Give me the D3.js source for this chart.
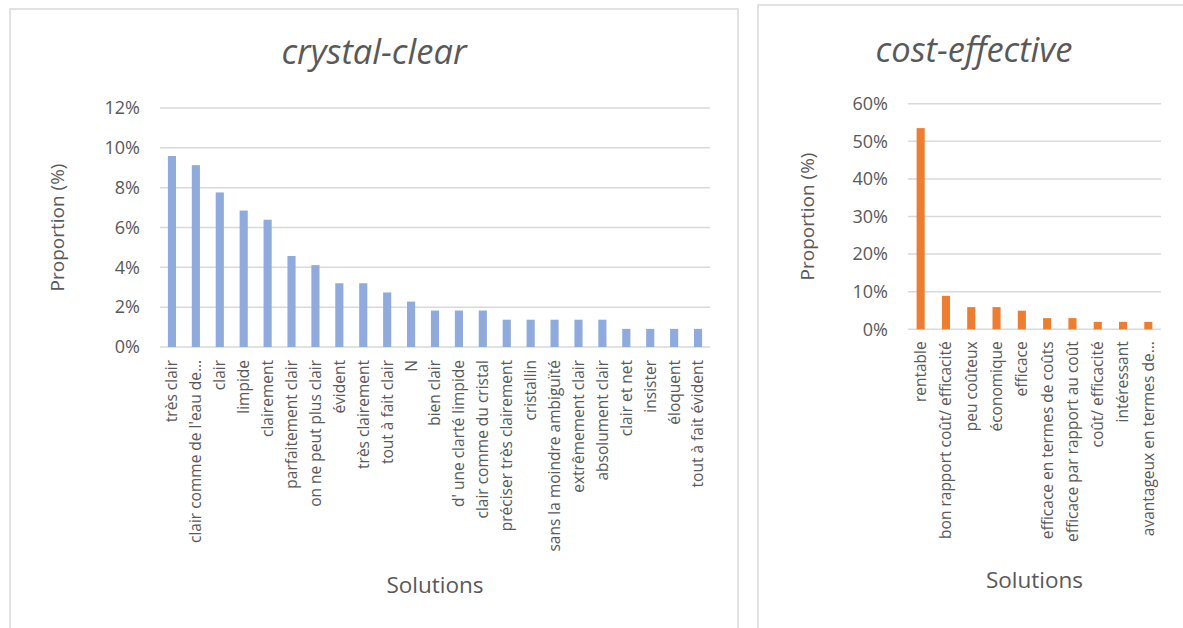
<!DOCTYPE html>
<html>
<head>
<meta charset="utf-8">
<script src="https://cdn.jsdelivr.net/npm/d3@7"></script>
<style>
  html, body { margin: 0; padding: 0; background: #ffffff; }
  svg { display: block; }
  text { font-family: "Open Sans", "Noto Sans", sans-serif; fill: #595959; }
</style>
</head>
<body>
<svg id="chart" width="1183" height="628"></svg>
<script>
// ---- Data: crystal-clear ----
const clearCategories = [
  "très clair", "clair comme de l'eau de…", "clair", "limpide", "clairement",
  "parfaitement clair", "on ne peut plus clair", "évident", "très clairement",
  "tout à fait clair", "N", "bien clair", "d' une clarté limpide",
  "clair comme du cristal", "préciser très clairement", "cristallin",
  "sans la moindre ambiguïté", "extrêmement clair", "absolument clair",
  "clair et net", "insister", "éloquent", "tout à fait évident"
];
const clearValues = [
  9.59, 9.13, 7.76, 6.85, 6.39, 4.57, 4.11, 3.20, 3.20, 2.74, 2.28,
  1.83, 1.83, 1.83, 1.37, 1.37, 1.37, 1.37, 1.37, 0.91, 0.91, 0.91, 0.91
];
const clearTicks = [0, 2, 4, 6, 8, 10, 12];

// ---- Data: cost-effective ----
const costCategories = [
  "rentable", "bon rapport coût/ efficacité", "peu coûteux", "économique",
  "efficace", "efficace en termes de coûts", "efficace par rapport au coût",
  "coût/ efficacité", "intéressant", "avantageux en termes de…"
];
const costValues = [53.5, 8.9, 5.9, 5.9, 4.95, 2.97, 2.97, 1.98, 1.98, 1.98];
const costTicks = [0, 10, 20, 30, 40, 50, 60];

const svg = d3.select("#chart");

function drawPanel(cfg) {
  const g = svg.append("g");
  // panel border
  g.append("rect")
    .attr("x", cfg.panel[0]).attr("y", cfg.panel[1])
    .attr("width", cfg.panel[2]).attr("height", cfg.panel[3])
    .attr("fill", "#fff").attr("stroke", "#d9d9d9").attr("stroke-width", 1.5);

  const x = d3.scaleBand()
    .domain(cfg.categories)
    .range([cfg.plot.left, cfg.plot.right])
    .paddingInner(cfg.pad).paddingOuter(cfg.pad / 2);
  const y = d3.scaleLinear()
    .domain([0, d3.max(cfg.ticks)])
    .range([cfg.plot.bottom, cfg.plot.top]);

  // gridlines
  g.append("g").selectAll("line").data(cfg.ticks).join("line")
    .attr("x1", cfg.plot.left).attr("x2", cfg.plot.right)
    .attr("y1", d => y(d)).attr("y2", d => y(d))
    .attr("stroke", "#d9d9d9").attr("stroke-width", 1.5);

  // y axis labels
  const yAxis = d3.axisLeft(y).tickValues(cfg.ticks)
    .tickFormat(d => d + "%").tickSize(0).tickPadding(20);
  const ya = g.append("g")
    .attr("transform", `translate(${cfg.plot.left},0)`)
    .call(yAxis);
  ya.select(".domain").remove();
  ya.selectAll("text")
    .style("font-family", '"Open Sans", sans-serif')
    .style("font-size", "18px").attr("fill", "#595959");

  // bars
  g.append("g").selectAll("rect").data(cfg.values).join("rect")
    .attr("x", (d, i) => x(cfg.categories[i]))
    .attr("width", x.bandwidth())
    .attr("y", d => y(d))
    .attr("height", d => y(0) - y(d))
    .attr("fill", cfg.color);

  // x axis labels
  const xAxis = d3.axisBottom(x).tickSize(0).tickPadding(0);
  const xa = g.append("g")
    .attr("transform", `translate(0,${cfg.plot.bottom})`)
    .call(xAxis);
  xa.select(".domain").remove();
  xa.selectAll("text")
    .style("font-family", '"Open Sans", sans-serif')
    .style("font-size", "15.5px").attr("fill", "#595959")
    .attr("text-anchor", "end")
    .attr("transform", `translate(0,${cfg.labelGap}) rotate(-90)`)
    .attr("x", 0).attr("y", 0).attr("dy", "0.35em");

  // title
  g.append("text")
    .attr("x", cfg.titleX).attr("y", cfg.titleY)
    .attr("text-anchor", "middle")
    .style("font-style", "italic").style("font-size", "34.5px")
    .text(cfg.title);

  // y title
  g.append("text")
    .attr("transform", `translate(${cfg.yTitleX},${(cfg.plot.top + cfg.plot.bottom) / 2}) rotate(-90)`)
    .attr("text-anchor", "middle").attr("dy", "0.35em")
    .style("font-size", "19px")
    .text("Proportion (%)");

  // x title
  g.append("text")
    .attr("x", (cfg.plot.left + cfg.plot.right) / 2).attr("y", cfg.xTitleY)
    .attr("text-anchor", "middle")
    .style("font-size", "22.5px")
    .text("Solutions");
}

drawPanel({
  panel: [10, 9, 728, 640],
  plot: { left: 160, right: 710, top: 108, bottom: 347 },
  categories: clearCategories, values: clearValues, ticks: clearTicks,
  pad: 0.66, color: "#8faadc", labelGap: 13,
  title: "crystal-clear", titleX: 374, titleY: 64,
  yTitleX: 57, xTitleY: 593
});

drawPanel({
  panel: [758, 5, 440, 640],
  plot: { left: 908, right: 1161, top: 103.7, bottom: 329.3 },
  categories: costCategories, values: costValues, ticks: costTicks,
  pad: 0.68, color: "#ed7d31", labelGap: 12,
  title: "cost-effective", titleX: 974, titleY: 62,
  yTitleX: 807, xTitleY: 588
});
</script>
</body>
</html>
